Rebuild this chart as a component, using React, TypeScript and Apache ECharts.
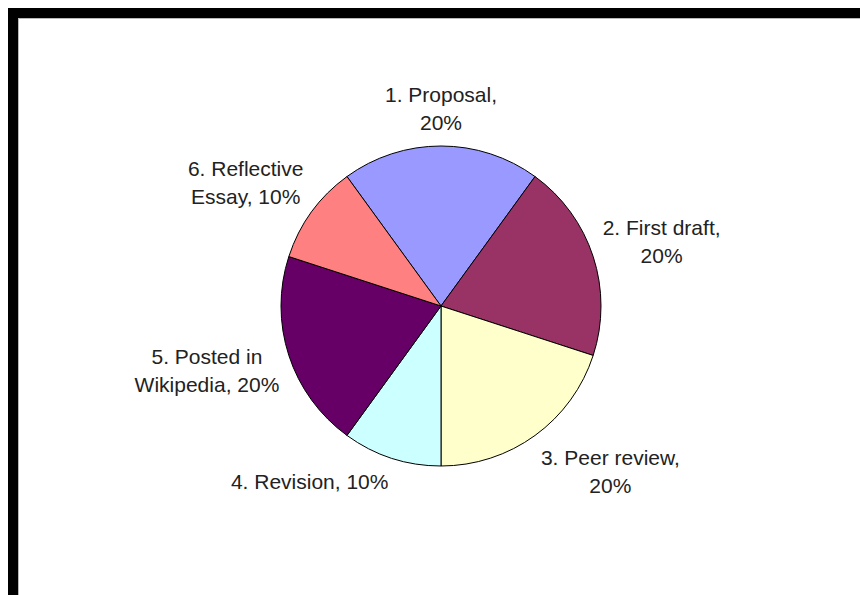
import React, { useEffect, useRef } from "react";
import * as echarts from "echarts";

const categories = [
  "1. Proposal",
  "2. First draft",
  "3. Peer review",
  "4. Revision",
  "5. Posted in Wikipedia",
  "6. Reflective Essay",
];
const shares = [20, 20, 20, 10, 20, 10];
const sliceColors = ["#9999FF", "#993366", "#FFFFCC", "#CCFFFF", "#660066", "#FF8080"];
// label line break after this many words (0 = single line)
const labelBreakAfterWords = [2, 3, 3, 0, 3, 2];

function labelText(name: string, pct: number, breakAfter: number): string {
  const words = `${name}, ${Math.round(pct)}%`.split(" ");
  if (!breakAfter) return words.join(" ");
  return words.slice(0, breakAfter).join(" ") + "\n" + words.slice(breakAfter).join(" ");
}

export default function App() {
  const ref = useRef<HTMLDivElement>(null);

  useEffect(() => {
    if (!ref.current) return;
    const chart = echarts.init(ref.current, null, { renderer: "svg" });
    const data = categories.map((name, i) => ({
      name,
      value: shares[i],
      itemStyle: { color: sliceColors[i] },
    }));
    chart.setOption({
      animation: false,
      backgroundColor: "#ffffff",
      series: [
        {
          type: "pie",
          center: [422, 287],
          radius: 160,
          startAngle: 126,
          clockwise: true,
          avoidLabelOverlap: false,
          data,
          itemStyle: { borderColor: "#000000", borderWidth: 1 },
          emphasis: { disabled: true },
          label: {
            show: true,
            position: "outside",
            fontFamily: "'Liberation Sans', Arial, sans-serif",
            fontSize: 21,
            lineHeight: 28,
            color: "#222222",
            align: "center",
            formatter: (p: any) => labelText(p.name, p.percent, labelBreakAfterWords[p.dataIndex]),
          },
          labelLine: {
            show: true,
            length: 10,
            length2: 0,
            lineStyle: { opacity: 0, width: 0 },
          },
          labelLayout: (params: any) => {
            const pts = params.labelLinePoints;
            if (!pts || pts.length < 2) return {};
            const p0 = pts[0];
            const p1 = pts[1];
            let dx = p1[0] - p0[0];
            let dy = p1[1] - p0[1];
            const len = Math.hypot(dx, dy) || 1;
            dx /= len;
            dy /= len;
            const gap = 10;
            const ax = p0[0] + dx * gap;
            const ay = p0[1] + dy * gap;
            const w = params.labelRect.width;
            const h = params.labelRect.height;
            const fx = dx > 0.15 ? 0 : dx < -0.15 ? 1 : 0.5;
            const fy = Math.min(1, Math.max(0, 0.5 - (0.5 * dy) / 0.7));
            return {
              x: ax + (0.5 - fx) * w,
              y: ay + (0.5 - fy) * h,
              align: "center",
              verticalAlign: "middle",
            };
          },
        },
      ],
    });
    return () => chart.dispose();
  }, []);

  return (
    <div
      style={{
        position: "fixed",
        left: 8,
        top: 8,
        width: 852,
        height: 587,
        boxSizing: "border-box",
        borderTop: "10px solid #000",
        borderLeft: "10px solid #000",
        background: "#fff",
      }}
    >
      <div
        style={{
          width: 842,
          height: 577,
          boxSizing: "border-box",
          borderTop: "1px solid #b8b8b8",
          borderLeft: "1px solid #b8b8b8",
        }}
      >
        <div ref={ref} style={{ width: 841, height: 576 }} />
      </div>
    </div>
  );
}
